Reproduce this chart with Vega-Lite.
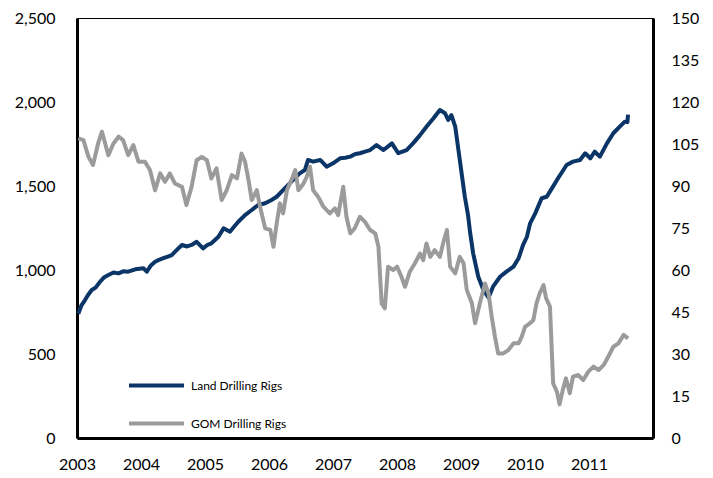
{
  "$schema": "https://vega.github.io/schema/vega-lite/v6.json",
  "width": 576,
  "height": 420,
  "autosize": "none",
  "padding": {"left": 77, "top": 18, "right": 60, "bottom": 40},
  "background": "white",
  "config": {
    "view": {"stroke": "#000000", "strokeWidth": 1},
    "font": "Lato",
    "axis": {"labelFont": "Lato", "labelFontSize": 16, "labelColor": "#000000", "grid": false, "ticks": false, "domainColor": "#000000", "domainWidth": 3, "title": null}
  },
  "datasets": {
    "land": [
      {"t": 2003.02, "v": 740}, {"t": 2003.07, "v": 790}, {"t": 2003.125, "v": 821}, {"t": 2003.17, "v": 850}, {"t": 2003.23, "v": 881}, {"t": 2003.29, "v": 895}, {"t": 2003.36, "v": 930},
      {"t": 2003.42, "v": 955}, {"t": 2003.49, "v": 970}, {"t": 2003.57, "v": 985}, {"t": 2003.65, "v": 980}, {"t": 2003.72, "v": 992}, {"t": 2003.80, "v": 990}, {"t": 2003.91, "v": 1004},
      {"t": 2004.04, "v": 1010}, {"t": 2004.09, "v": 990}, {"t": 2004.15, "v": 1025}, {"t": 2004.22, "v": 1049}, {"t": 2004.28, "v": 1060}, {"t": 2004.35, "v": 1070},
      {"t": 2004.42, "v": 1080}, {"t": 2004.48, "v": 1089}, {"t": 2004.56, "v": 1120}, {"t": 2004.64, "v": 1149}, {"t": 2004.72, "v": 1140}, {"t": 2004.79, "v": 1149}, {"t": 2004.87, "v": 1168},
      {"t": 2004.97, "v": 1129}, {"t": 2005.04, "v": 1150}, {"t": 2005.10, "v": 1159}, {"t": 2005.21, "v": 1198}, {"t": 2005.29, "v": 1248},
      {"t": 2005.39, "v": 1228}, {"t": 2005.46, "v": 1260}, {"t": 2005.52, "v": 1287}, {"t": 2005.625, "v": 1327}, {"t": 2005.73, "v": 1357},
      {"t": 2005.83, "v": 1387}, {"t": 2005.94, "v": 1397}, {"t": 2006.04, "v": 1417}, {"t": 2006.12, "v": 1436},
      {"t": 2006.22, "v": 1476}, {"t": 2006.35, "v": 1526}, {"t": 2006.48, "v": 1575}, {"t": 2006.56, "v": 1595},
      {"t": 2006.61, "v": 1655}, {"t": 2006.69, "v": 1645}, {"t": 2006.80, "v": 1655}, {"t": 2006.90, "v": 1615},
      {"t": 2007.00, "v": 1635}, {"t": 2007.11, "v": 1665}, {"t": 2007.19, "v": 1668}, {"t": 2007.27, "v": 1675}, {"t": 2007.35, "v": 1690}, {"t": 2007.42, "v": 1695},
      {"t": 2007.50, "v": 1705}, {"t": 2007.58, "v": 1714}, {"t": 2007.68, "v": 1744}, {"t": 2007.79, "v": 1714}, {"t": 2007.92, "v": 1754},
      {"t": 2008.02, "v": 1695}, {"t": 2008.15, "v": 1714}, {"t": 2008.25, "v": 1754}, {"t": 2008.36, "v": 1803},
      {"t": 2008.46, "v": 1853}, {"t": 2008.57, "v": 1903}, {"t": 2008.67, "v": 1952}, {"t": 2008.75, "v": 1933},
      {"t": 2008.80, "v": 1893}, {"t": 2008.85, "v": 1922}, {"t": 2008.91, "v": 1853}, {"t": 2008.96, "v": 1714},
      {"t": 2009.01, "v": 1575}, {"t": 2009.06, "v": 1436}, {"t": 2009.11, "v": 1327}, {"t": 2009.14, "v": 1230},
      {"t": 2009.19, "v": 1099}, {"t": 2009.27, "v": 960}, {"t": 2009.35, "v": 881}, {"t": 2009.43, "v": 835},
      {"t": 2009.50, "v": 901}, {"t": 2009.61, "v": 960}, {"t": 2009.71, "v": 990}, {"t": 2009.82, "v": 1020},
      {"t": 2009.90, "v": 1070}, {"t": 2009.97, "v": 1149}, {"t": 2010.03, "v": 1198}, {"t": 2010.08, "v": 1278},
      {"t": 2010.16, "v": 1337}, {"t": 2010.26, "v": 1427}, {"t": 2010.34, "v": 1436}, {"t": 2010.42, "v": 1486},
      {"t": 2010.50, "v": 1536}, {"t": 2010.60, "v": 1595}, {"t": 2010.65, "v": 1625}, {"t": 2010.75, "v": 1645},
      {"t": 2010.86, "v": 1655}, {"t": 2010.94, "v": 1695}, {"t": 2011.02, "v": 1665}, {"t": 2011.09, "v": 1704},
      {"t": 2011.17, "v": 1675}, {"t": 2011.28, "v": 1754}, {"t": 2011.38, "v": 1814}, {"t": 2011.48, "v": 1853},
      {"t": 2011.56, "v": 1883}, {"t": 2011.60, "v": 1880}, {"t": 2011.61, "v": 1925}
    ],
    "gom": [
      {"t": 2003.02, "v": 107.0}, {"t": 2003.10, "v": 106.4}, {"t": 2003.18, "v": 100.4}, {"t": 2003.25, "v": 97.5},
      {"t": 2003.33, "v": 105.2}, {"t": 2003.39, "v": 109.4}, {"t": 2003.49, "v": 101.0}, {"t": 2003.57, "v": 105.2},
      {"t": 2003.65, "v": 107.6}, {"t": 2003.72, "v": 106.4}, {"t": 2003.80, "v": 101.0}, {"t": 2003.88, "v": 104.6},
      {"t": 2003.96, "v": 98.7}, {"t": 2004.06, "v": 98.7}, {"t": 2004.14, "v": 95.7}, {"t": 2004.22, "v": 88.5},
      {"t": 2004.30, "v": 94.5}, {"t": 2004.375, "v": 91.5}, {"t": 2004.45, "v": 94.5}, {"t": 2004.53, "v": 90.9},
      {"t": 2004.64, "v": 89.7}, {"t": 2004.71, "v": 83.2}, {"t": 2004.79, "v": 89.7}, {"t": 2004.87, "v": 99.2},
      {"t": 2004.95, "v": 100.4}, {"t": 2005.03, "v": 99.2}, {"t": 2005.10, "v": 92.7}, {"t": 2005.18, "v": 96.3},
      {"t": 2005.26, "v": 85.0}, {"t": 2005.34, "v": 88.5}, {"t": 2005.42, "v": 93.9}, {"t": 2005.50, "v": 92.7},
      {"t": 2005.57, "v": 101.6}, {"t": 2005.625, "v": 98.7}, {"t": 2005.68, "v": 92.1}, {"t": 2005.73, "v": 85.0},
      {"t": 2005.81, "v": 88.5}, {"t": 2005.86, "v": 82.6}, {"t": 2005.94, "v": 74.9}, {"t": 2006.02, "v": 74.3},
      {"t": 2006.07, "v": 68.3}, {"t": 2006.12, "v": 76.6}, {"t": 2006.17, "v": 83.8}, {"t": 2006.22, "v": 80.2},
      {"t": 2006.28, "v": 88.5}, {"t": 2006.35, "v": 92.1}, {"t": 2006.41, "v": 95.7}, {"t": 2006.46, "v": 88.5},
      {"t": 2006.54, "v": 90.9}, {"t": 2006.59, "v": 93.3}, {"t": 2006.64, "v": 96.9}, {"t": 2006.69, "v": 88.5},
      {"t": 2006.77, "v": 86.1}, {"t": 2006.85, "v": 82.6}, {"t": 2006.95, "v": 80.2}, {"t": 2007.03, "v": 82.0},
      {"t": 2007.08, "v": 79.6}, {"t": 2007.16, "v": 89.7}, {"t": 2007.21, "v": 79.0}, {"t": 2007.27, "v": 73.1},
      {"t": 2007.34, "v": 74.9}, {"t": 2007.42, "v": 79.0}, {"t": 2007.50, "v": 77.2}, {"t": 2007.58, "v": 74.3},
      {"t": 2007.66, "v": 73.1}, {"t": 2007.71, "v": 68.3}, {"t": 2007.76, "v": 48.1}, {"t": 2007.81, "v": 46.3},
      {"t": 2007.86, "v": 61.2}, {"t": 2007.94, "v": 60.0}, {"t": 2008.00, "v": 61.2}, {"t": 2008.07, "v": 57.6},
      {"t": 2008.125, "v": 54.0}, {"t": 2008.20, "v": 59.4}, {"t": 2008.28, "v": 62.4}, {"t": 2008.36, "v": 65.9},
      {"t": 2008.41, "v": 63.5}, {"t": 2008.46, "v": 69.5}, {"t": 2008.52, "v": 64.7}, {"t": 2008.59, "v": 67.1},
      {"t": 2008.67, "v": 64.7}, {"t": 2008.72, "v": 69.5}, {"t": 2008.78, "v": 74.3}, {"t": 2008.83, "v": 61.2},
      {"t": 2008.91, "v": 58.8}, {"t": 2008.98, "v": 64.7}, {"t": 2009.04, "v": 62.4}, {"t": 2009.09, "v": 52.9},
      {"t": 2009.17, "v": 48.1}, {"t": 2009.22, "v": 41.0}, {"t": 2009.27, "v": 45.7}, {"t": 2009.32, "v": 50.4},
      {"t": 2009.375, "v": 55.2}, {"t": 2009.43, "v": 51.7}, {"t": 2009.48, "v": 43.3}, {"t": 2009.53, "v": 36.2},
      {"t": 2009.58, "v": 30.2}, {"t": 2009.66, "v": 30.2}, {"t": 2009.74, "v": 31.4}, {"t": 2009.82, "v": 33.8},
      {"t": 2009.90, "v": 33.8}, {"t": 2009.95, "v": 36.2}, {"t": 2010.00, "v": 39.7}, {"t": 2010.08, "v": 41.0},
      {"t": 2010.13, "v": 42.1}, {"t": 2010.18, "v": 48.1}, {"t": 2010.23, "v": 51.7}, {"t": 2010.29, "v": 54.6},
      {"t": 2010.33, "v": 49.9}, {"t": 2010.39, "v": 46.9}, {"t": 2010.44, "v": 19.5}, {"t": 2010.50, "v": 16.5},
      {"t": 2010.54, "v": 12.0}, {"t": 2010.59, "v": 17.1}, {"t": 2010.64, "v": 21.3}, {"t": 2010.70, "v": 16.0},
      {"t": 2010.75, "v": 21.9}, {"t": 2010.83, "v": 22.5}, {"t": 2010.91, "v": 20.7}, {"t": 2010.99, "v": 23.7},
      {"t": 2011.07, "v": 25.5}, {"t": 2011.15, "v": 24.3}, {"t": 2011.23, "v": 26.1}, {"t": 2011.30, "v": 29.0},
      {"t": 2011.38, "v": 32.6}, {"t": 2011.46, "v": 33.8}, {"t": 2011.54, "v": 36.8}, {"t": 2011.61, "v": 35.6}
    ]
  },
  "encoding": {
    "x": {
      "field": "t", "type": "quantitative",
      "scale": {"domain": [2003, 2012], "nice": false, "zero": false},
      "axis": {"values": [2003, 2004, 2005, 2006, 2007, 2008, 2009, 2010, 2011], "format": "d", "labelPadding": 18, "labelFlush": false}
    }
  },
  "layer": [
    {
      "data": {"name": "land"},
      "mark": {"type": "line", "strokeWidth": 4, "strokeJoin": "round"},
      "encoding": {
        "y": {"field": "v", "type": "quantitative", "scale": {"domain": [0, 2500], "nice": false},
              "axis": {"orient": "left", "values": [0, 500, 1000, 1500, 2000, 2500], "format": ",.0f", "labelPadding": 22}},
        "color": {"datum": "Land Drilling Rigs", "type": "nominal",
          "scale": {"domain": ["Land Drilling Rigs", "GOM Drilling Rigs"], "range": ["#0B3566", "#9B9B9B"]},
          "legend": {"title": null, "orient": "none", "legendX": 50, "legendY": 338, "symbolType": "stroke", "symbolSize": 3025,
                     "symbolStrokeWidth": 4, "labelFont": "Lato", "labelFontSize": 12, "labelFontWeight": "normal", "labelColor": "#000000", "rowPadding": -31, "labelOffset": 5}}
      }
    },
    {
      "data": {"name": "gom"},
      "mark": {"type": "line", "strokeWidth": 4, "strokeJoin": "round"},
      "encoding": {
        "y": {"field": "v", "type": "quantitative", "scale": {"domain": [0, 150], "nice": false},
              "axis": {"orient": "right", "values": [0, 15, 30, 45, 60, 75, 90, 105, 120, 135, 150], "labelPadding": 18}},
        "color": {"datum": "GOM Drilling Rigs", "type": "nominal"}
      }
    }
  ],
  "resolve": {"scale": {"y": "independent"}}
}
